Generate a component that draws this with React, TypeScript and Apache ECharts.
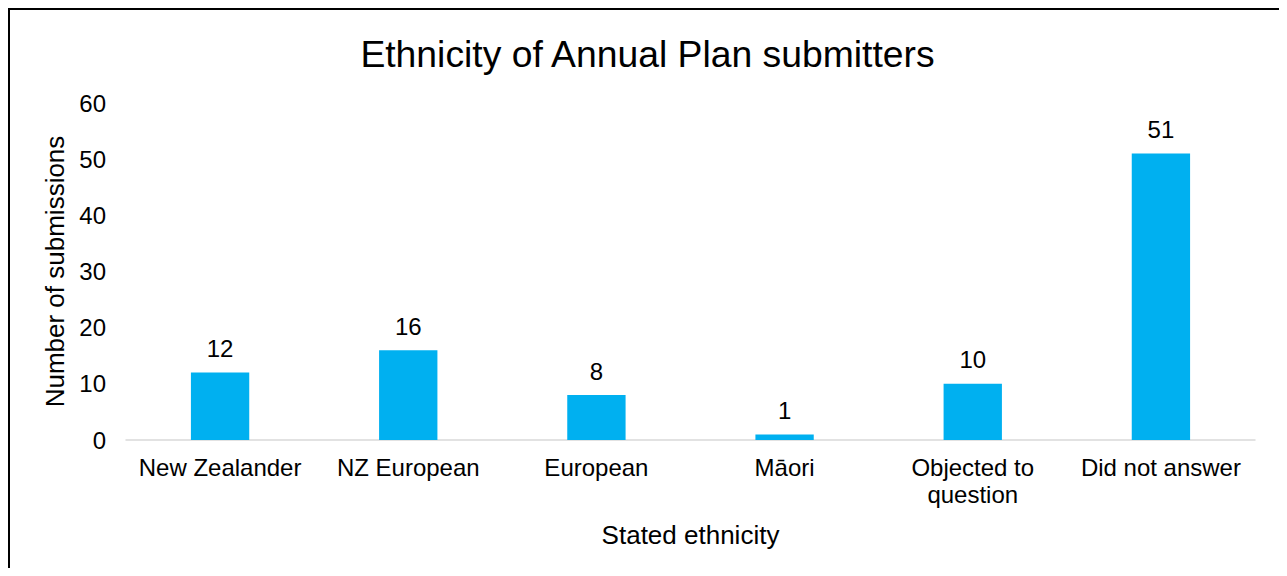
import React, { useEffect, useRef } from "react";
import * as echarts from "echarts";

const categories = ["New Zealander", "NZ European", "European", "Māori", "Objected to\nquestion", "Did not answer"];
const submissions = [12, 16, 8, 1, 10, 51];
const yTicks = { min: 0, max: 60, interval: 10 };
const titleText = "Ethnicity of Annual Plan submitters";
const xAxisTitle = "Stated ethnicity";
const yAxisTitle = "Number of submissions";

const FONT = "'Liberation Sans', Arial, sans-serif";

export default function App() {
  const ref = useRef<HTMLDivElement>(null);
  useEffect(() => {
    if (!ref.current) return;
    const chart = echarts.init(ref.current, undefined, { renderer: "svg" });
    chart.setOption({
      animation: false,
      textStyle: { fontFamily: FONT, color: "#000" },
      title: {
        text: titleText,
        left: "center",
        top: 20,
        textStyle: { fontFamily: FONT, fontSize: 37.3, fontWeight: "normal", color: "#000" },
      },
      grid: { left: 116, right: 30, top: 93, height: 337, containLabel: false },
      xAxis: {
        type: "category",
        data: categories,
        name: xAxisTitle,
        nameLocation: "middle",
        nameGap: 82,
        nameTextStyle: { fontFamily: FONT, fontSize: 26, color: "#000" },
        axisLine: { show: true, lineStyle: { color: "#d9d9d9", width: 1.5 } },
        axisTick: { show: false },
        axisLabel: { fontFamily: FONT, fontSize: 24, color: "#000", margin: 14, lineHeight: 27, interval: 0 },
      },
      yAxis: {
        type: "value",
        min: yTicks.min,
        max: yTicks.max,
        interval: yTicks.interval,
        name: yAxisTitle,
        nameLocation: "middle",
        nameGap: 58,
        nameTextStyle: { fontFamily: FONT, fontSize: 26, color: "#000" },
        axisLine: { show: false },
        axisTick: { show: false },
        splitLine: { show: false },
        axisLabel: { fontFamily: FONT, fontSize: 24, color: "#000", margin: 20 },
      },
      series: [
        {
          type: "bar",
          data: submissions,
          barWidth: "31%",
          itemStyle: { color: "#00b0f0" },
          label: {
            show: true,
            position: "top",
            distance: 12,
            fontFamily: FONT,
            fontSize: 24,
            color: "#000",
          },
        },
      ],
    });
    return () => chart.dispose();
  }, []);
  return (
    <div
      style={{
        width: 1279,
        height: 560,
        borderTop: "2px solid #000",
        borderLeft: "2px solid #000",
        borderRight: "2px solid #000",
        borderBottom: "none",
        boxSizing: "border-box",
        overflow: "hidden",
      }}
    >
      <div ref={ref} style={{ width: 1275, height: 558 }} />
    </div>
  );
}
